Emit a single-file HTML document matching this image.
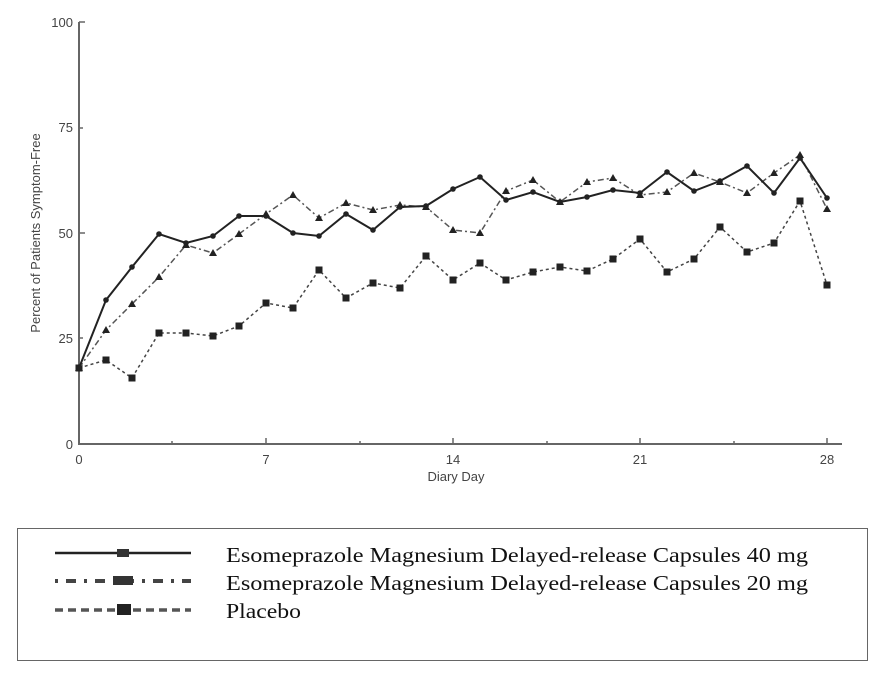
<!DOCTYPE html>
<html><head><style>
body{margin:0;background:#fff;}
svg{display:block;}
</style></head><body>
<svg width="876" height="676" xmlns="http://www.w3.org/2000/svg" font-family="Liberation Sans, sans-serif">
<defs>
<marker id="sq" markerWidth="8" markerHeight="8" refX="4" refY="4" markerUnits="userSpaceOnUse"><rect x="0.5" y="0.5" width="7" height="7" fill="#222"/></marker>
<marker id="tr" markerWidth="10" markerHeight="10" refX="5" refY="5" markerUnits="userSpaceOnUse"><polygon points="5,1 9,8 1,8" fill="#222"/></marker>
<marker id="ci" markerWidth="8" markerHeight="8" refX="4" refY="4" markerUnits="userSpaceOnUse"><circle cx="4" cy="4" r="2.8" fill="#222"/></marker>
</defs>
<line x1="79" y1="22" x2="79" y2="444" stroke="#666" stroke-width="2"/>
<line x1="78" y1="444" x2="842" y2="444" stroke="#666" stroke-width="2"/>
<g stroke="#666" stroke-width="1.5">
<line x1="79" y1="22" x2="85" y2="22"/><line x1="79" y1="128" x2="83" y2="128"/><line x1="79" y1="233" x2="85" y2="233"/><line x1="79" y1="338" x2="83" y2="338"/>
<line x1="266" y1="444" x2="266" y2="438"/><line x1="453" y1="444" x2="453" y2="438"/><line x1="640" y1="444" x2="640" y2="438"/><line x1="827" y1="444" x2="827" y2="438"/>
<line x1="172" y1="444" x2="172" y2="441"/><line x1="360" y1="444" x2="360" y2="441"/><line x1="547" y1="444" x2="547" y2="441"/><line x1="734" y1="444" x2="734" y2="441"/>
</g>
<g font-size="13" fill="#444" text-anchor="end">
<text x="73" y="27">100</text><text x="73" y="132">75</text><text x="73" y="238">50</text><text x="73" y="343">25</text><text x="73" y="449">0</text>
</g>
<g font-size="13" fill="#444" text-anchor="middle">
<text x="79" y="464">0</text><text x="266" y="464">7</text><text x="453" y="464">14</text><text x="640" y="464">21</text><text x="827" y="464">28</text>
<text x="456" y="481">Diary Day</text>
</g>
<text transform="translate(40,233) rotate(-90)" font-size="13" fill="#444" text-anchor="middle">Percent of Patients Symptom-Free</text>
<polyline fill="none" stroke="#444" stroke-width="1.5" stroke-dasharray="3,3" marker-start="url(#sq)" marker-mid="url(#sq)" marker-end="url(#sq)" points="79,368 106,360 132,378 159,333 186,333 213,336 239,326 266,303 293,308 319,270 346,298 373,283 400,288 426,256 453,280 480,263 506,280 533,272 560,267 587,271 613,259 640,239 667,272 694,259 720,227 747,252 774,243 800,201 827,285"/>
<polyline fill="none" stroke="#555" stroke-width="1.5" stroke-dasharray="6,3,2,3" marker-start="url(#tr)" marker-mid="url(#tr)" marker-end="url(#tr)" points="79,368 106,330 132,304 159,277 186,245 213,253 239,234 266,214 293,195 319,218 346,203 373,210 400,205 426,207 453,230 480,233 506,191 533,180 560,202 587,182 613,178 640,195 667,192 694,173 720,182 747,193 774,173 800,155 827,209"/>
<polyline fill="none" stroke="#222" stroke-width="2" marker-start="url(#ci)" marker-mid="url(#ci)" marker-end="url(#ci)" points="79,368 106,300 132,267 159,234 186,243 213,236 239,216 266,216 293,233 319,236 346,214 373,230 400,207 426,206 453,189 480,177 506,200 533,192 560,202 587,197 613,190 640,193 667,172 694,191 720,181 747,166 774,193 800,158 827,198"/>
<rect x="17.5" y="528.5" width="850" height="132" fill="none" stroke="#666" stroke-width="1"/>
<line x1="55" y1="553" x2="191" y2="553" stroke="#222" stroke-width="2.5"/>
<rect x="117" y="549" width="12" height="8" fill="#333"/>
<line x1="55" y1="581" x2="191" y2="581" stroke="#444" stroke-width="4" stroke-dasharray="3,8,10,8"/>
<rect x="113" y="576" width="20" height="9" fill="#333"/>
<line x1="55" y1="610" x2="191" y2="610" stroke="#555" stroke-width="3.5" stroke-dasharray="8,5"/>
<rect x="117" y="604" width="14" height="11" fill="#222"/>
<g font-family="Liberation Serif, serif" font-size="21" fill="#111">
<text x="226" y="562" textLength="582" lengthAdjust="spacingAndGlyphs">Esomeprazole Magnesium Delayed-release Capsules 40 mg</text>
<text x="226" y="590" textLength="582" lengthAdjust="spacingAndGlyphs">Esomeprazole Magnesium Delayed-release Capsules 20 mg</text>
<text x="226" y="618" textLength="75" lengthAdjust="spacingAndGlyphs">Placebo</text>
</g>
</svg>
</body></html>
